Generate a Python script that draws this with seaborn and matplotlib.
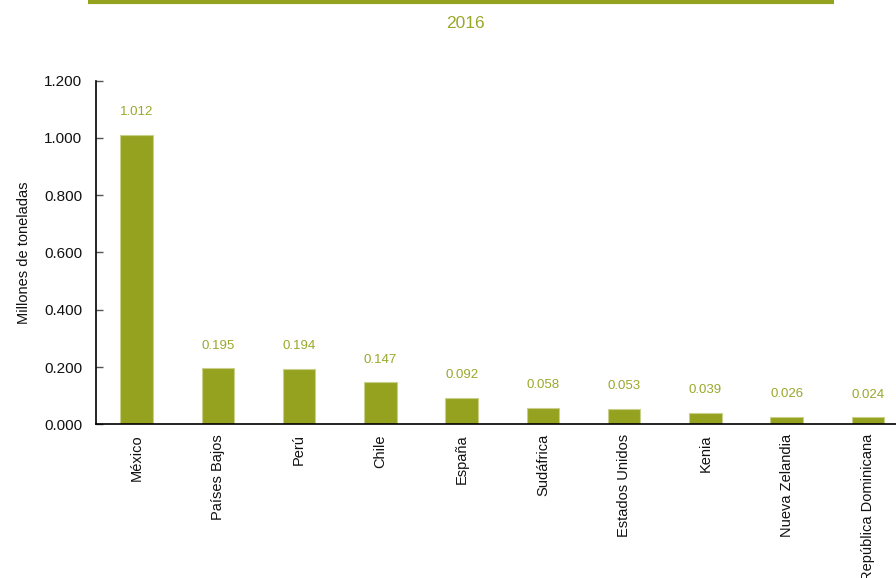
import matplotlib
matplotlib.use("Agg")
from matplotlib import pyplot as plt
from matplotlib.lines import Line2D
from matplotlib.ticker import FixedLocator, FuncFormatter
import seaborn as sns
import pandas as pd

# data
countries = ["México", "Países Bajos", "Perú", "Chile", "España", "Sudáfrica",
             "Estados Unidos", "Kenia", "Nueva Zelandia", "República Dominicana"]
values = [1.012, 0.195, 0.194, 0.147, 0.092, 0.058, 0.053, 0.039, 0.026, 0.024]
year = "2016"
y_label = "Millones de toneladas"

df = pd.DataFrame({"pais": countries, "valor": values})

sns.set_style("white")
plt.rcParams["font.family"] = ["Liberation Sans Narrow", "Liberation Sans", "DejaVu Sans"]

bar_color = "#95a220"
text_color = "#9aa82a"

fig = plt.figure(figsize=(8.96, 5.78), dpi=100)
ax = fig.add_axes([0.1071, 0.2659, 0.907, 0.5945])

sns.barplot(data=df, x="pais", y="valor", color=bar_color, saturation=1,
            width=0.4, edgecolor="#c9d08a", linewidth=0.8, ax=ax)

ax.set_xlim(-0.5, len(countries) - 0.5)
ax.set_ylim(0, 1.2)
ax.set_yticks([0, 0.2, 0.4, 0.6, 0.8, 1.0, 1.2])
ax.yaxis.set_major_formatter(FuncFormatter(lambda v, p: f"{v:.3f}"))

# value labels above bars
for i, v in enumerate(values):
    ax.annotate(f"{v:.3f}", (i, v), xytext=(0, 12), textcoords="offset points",
                ha="center", va="bottom", color=text_color, fontsize=9.5)

# x ticks sit between the bars
ax.xaxis.set_minor_locator(FixedLocator([i + 0.5 for i in range(len(countries) - 1)]))
ax.tick_params(axis="x", which="major", length=0, pad=7, labelsize=10.5, labelrotation=90,
               labelcolor="#111111")
ax.tick_params(axis="x", which="minor", direction="in", length=4, width=1, color="#444444")
ax.tick_params(axis="y", direction="in", length=5, width=1, color="#555555", pad=10,
               labelsize=11, left=True, labelcolor="#111111")
for lbl in ax.get_xticklabels():
    lbl.set_va("top")

sns.despine(ax=ax)
for s in ["left", "bottom"]:
    ax.spines[s].set_color("black")
    ax.spines[s].set_linewidth(1.2)

ax.set_xlabel("")
ax.set_ylabel(y_label, fontsize=10.5, labelpad=9, color="#111111")

# header line and year
fig.add_artist(Line2D([88 / 896, 834 / 896], [1 - 2 / 578, 1 - 2 / 578],
                      color=bar_color, linewidth=3, solid_capstyle="butt"))
fig.text(465 / 896, 1 - 24 / 578, year, ha="center", va="center",
         color=text_color, fontsize=12.5)

fig.savefig("out.png", dpi=100)
